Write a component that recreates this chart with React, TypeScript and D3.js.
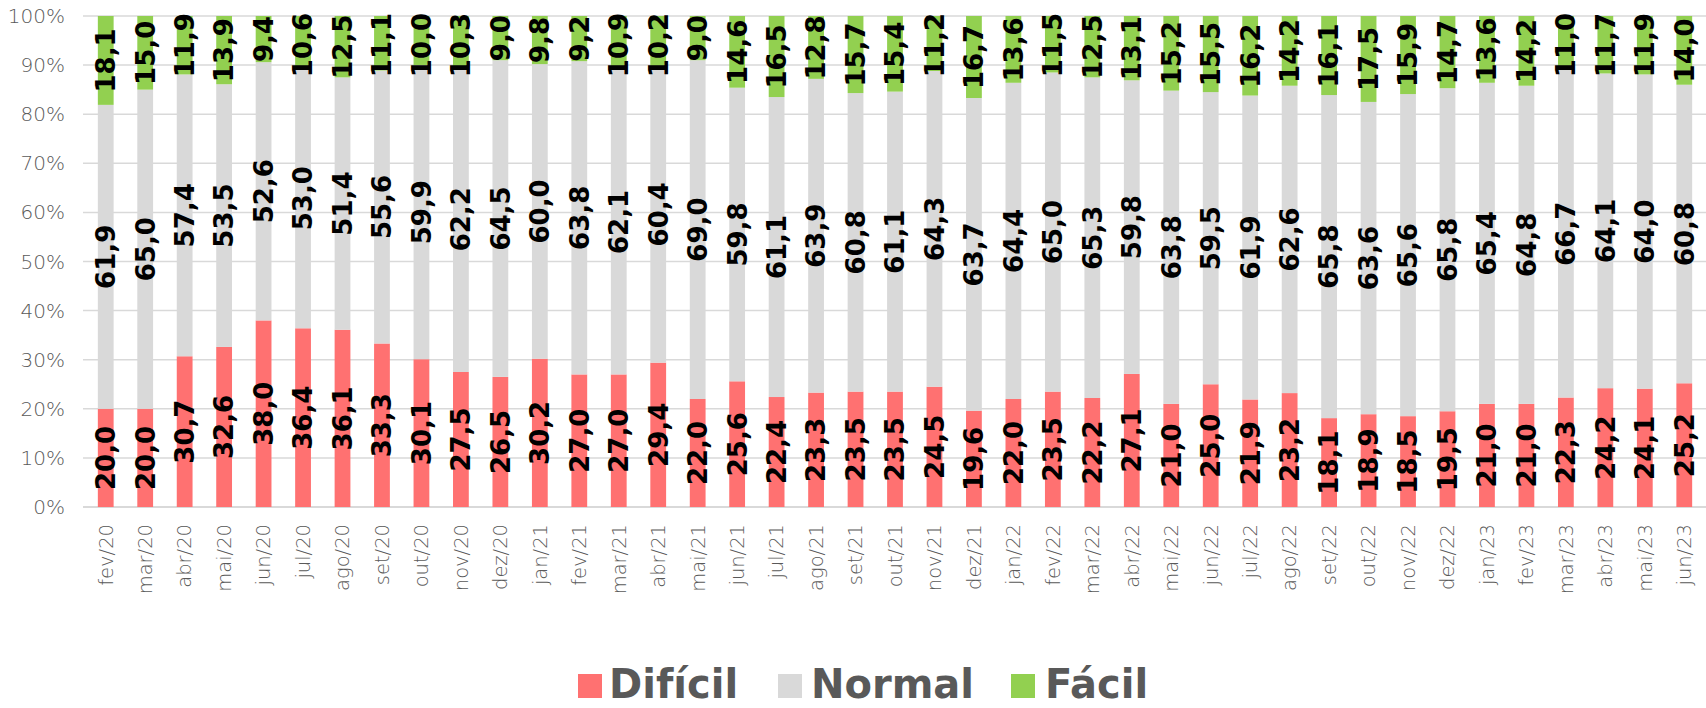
import { scaleBand, scaleLinear, stack, stackOffsetExpand } from 'd3';

const months = [
  'fev/20', 'mar/20', 'abr/20', 'mai/20', 'jun/20', 'jul/20', 'ago/20', 'set/20', 'out/20', 'nov/20', 'dez/20',
  'jan/21', 'fev/21', 'mar/21', 'abr/21', 'mai/21', 'jun/21', 'jul/21', 'ago/21', 'set/21', 'out/21', 'nov/21', 'dez/21',
  'jan/22', 'fev/22', 'mar/22', 'abr/22', 'mai/22', 'jun/22', 'jul/22', 'ago/22', 'set/22', 'out/22', 'nov/22', 'dez/22',
  'jan/23', 'fev/23', 'mar/23', 'abr/23', 'mai/23', 'jun/23',
];

const dificil = [
  20.0, 20.0, 30.7, 32.6, 38.0, 36.4, 36.1, 33.3, 30.1, 27.5, 26.5,
  30.2, 27.0, 27.0, 29.4, 22.0, 25.6, 22.4, 23.3, 23.5, 23.5, 24.5, 19.6,
  22.0, 23.5, 22.2, 27.1, 21.0, 25.0, 21.9, 23.2, 18.1, 18.9, 18.5, 19.5,
  21.0, 21.0, 22.3, 24.2, 24.1, 25.2,
];

const normal = [
  61.9, 65.0, 57.4, 53.5, 52.6, 53.0, 51.4, 55.6, 59.9, 62.2, 64.5,
  60.0, 63.8, 62.1, 60.4, 69.0, 59.8, 61.1, 63.9, 60.8, 61.1, 64.3, 63.7,
  64.4, 65.0, 65.3, 59.8, 63.8, 59.5, 61.9, 62.6, 65.8, 63.6, 65.6, 65.8,
  65.4, 64.8, 66.7, 64.1, 64.0, 60.8,
];

const facil = [
  18.1, 15.0, 11.9, 13.9, 9.4, 10.6, 12.5, 11.1, 10.0, 10.3, 9.0,
  9.8, 9.2, 10.9, 10.2, 9.0, 14.6, 16.5, 12.8, 15.7, 15.4, 11.2, 16.7,
  13.6, 11.5, 12.5, 13.1, 15.2, 15.5, 16.2, 14.2, 16.1, 17.5, 15.9, 14.7,
  13.6, 14.2, 11.0, 11.7, 11.9, 14.0,
];

const yTicks = [0, 0.1, 0.2, 0.3, 0.4, 0.5, 0.6, 0.7, 0.8, 0.9, 1];

const seriesKeys = ['dificil', 'normal', 'facil'];
const seriesNames = ['Difícil', 'Normal', 'Fácil'];
const colors = ['#FF7171', '#D9D9D9', '#92D050'];

const W = 1706;
const H = 708;
const plotTop = 16;
const plotBottom = 507;
const labelFont = 26;

// rough width of a bold DejaVu label so it can be kept inside the plot
function labelLen(t: string) {
  let w = 0;
  for (const ch of t) w += ch === ',' ? 0.38 : 0.696;
  return w * labelFont;
}

const fmt = (v: number) => v.toFixed(1).replace('.', ',');

export default function App() {
  const rows = months.map((m, i) => ({ month: m, dificil: dificil[i], normal: normal[i], facil: facil[i] }));
  const values: Record<string, number[]> = { dificil, normal, facil };

  const x = scaleBand<string>().domain(months).range([86, 1704]).paddingInner(0.6).paddingOuter(0.3);
  const y = scaleLinear().domain([0, 1]).range([plotBottom, plotTop]);

  const layers = stack<any>().keys(seriesKeys).offset(stackOffsetExpand)(rows);

  const legendPos = [
    { sq: 578, tx: 609 },
    { sq: 778, tx: 811 },
    { sq: 1011, tx: 1045 },
  ];

  return (
    <svg width={W} height={H} style={{ position: 'absolute', left: 0, top: 0, background: '#fff' }}>
      {/* grid */}
      {yTicks.map(t => (
        <g key={t}>
          <line x1={83} x2={W} y1={y(t)} y2={y(t)} stroke="#D9D9D9" strokeWidth={t === 0 ? 2 : 1.5} />
          <text x={65} y={y(t)} dy="0.35em" textAnchor="end" fontFamily="DejaVu Sans" fontWeight={300}
            fontSize={20} fill="#595959">{Math.round(t * 100)}%</text>
        </g>
      ))}

      {/* bars */}
      {layers.map((layer, si) => (
        <g key={layer.key} fill={colors[si]}>
          {layer.map((d: any, i: number) => (
            <rect key={i} x={x(months[i])} width={x.bandwidth()} y={y(d[1])} height={y(d[0]) - y(d[1])} />
          ))}
        </g>
      ))}

      {/* data labels */}
      {layers.map((layer, si) => (
        <g key={'l' + layer.key}>
          {layer.map((d: any, i: number) => {
            const txt = fmt(values[layer.key][i]);
            const len = labelLen(txt);
            let cy = (y(d[0]) + y(d[1])) / 2;
            if (cy - len / 2 < plotTop - 3) cy = plotTop - 3 + len / 2;
            const cx = (x(months[i]) ?? 0) + x.bandwidth() / 2;
            return (
              <text key={i} transform={`translate(${cx},${cy}) rotate(-90)`} textAnchor="middle" dy="0.36em"
                fontFamily="DejaVu Sans" fontWeight="bold" fontSize={labelFont} fill="#000">{txt}</text>
            );
          })}
        </g>
      ))}

      {/* x axis labels */}
      {months.map(m => (
        <text key={m} transform={`translate(${(x(m) ?? 0) + x.bandwidth() / 2},524) rotate(-90)`} textAnchor="end"
          dy="0.35em" fontFamily="DejaVu Sans" fontWeight={300} fontSize={19.5} fill="#595959">{m}</text>
      ))}

      {/* legend */}
      {seriesNames.map((name, i) => (
        <g key={name}>
          <rect x={legendPos[i].sq} y={674} width={24} height={24} fill={colors[i]} />
          <text x={legendPos[i].tx} y={698} fontFamily="DejaVu Sans" fontWeight="bold" fontSize={40} fill="#595959">{name}</text>
        </g>
      ))}
    </svg>
  );
}
